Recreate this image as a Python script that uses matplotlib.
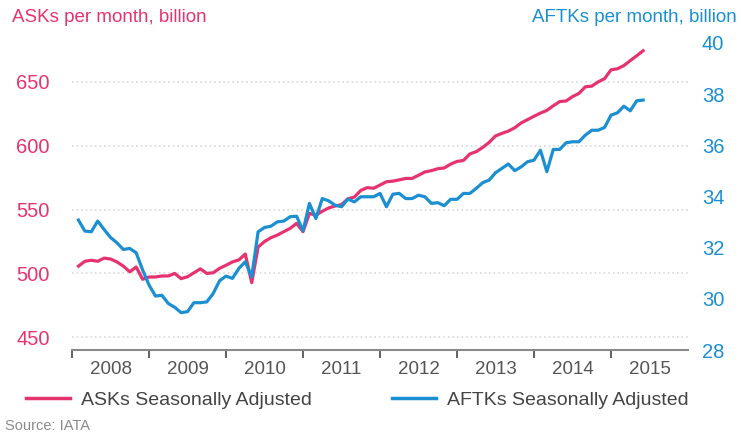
import numpy as np
import matplotlib
matplotlib.use("Agg")
import matplotlib.pyplot as plt
from matplotlib.ticker import FixedLocator, NullFormatter, FixedFormatter

plt.rcParams['font.family'] = ['Liberation Sans', 'DejaVu Sans']

PINK = '#e6336f'
BLUE = '#1b8fd2'

# monthly, Jan 2008 .. May 2015
asks = [505.7, 509.5, 510.3, 509.5, 512.0, 511.3, 509.0, 505.7, 501.3, 505.0,
        495.4, 497.2, 497.2, 498.0, 498.0, 500.0, 495.9, 497.4, 500.5, 503.6,
        500.0, 500.5, 504.0, 506.4, 509.0, 510.6, 515.2, 492.8, 520.6, 525.0,
        528.0, 530.0, 532.7, 535.3, 539.2, 532.7, 547.0, 545.6, 548.7, 551.3,
        552.8, 553.9, 558.5, 559.8, 565.0, 567.2, 566.7, 569.2, 571.8, 572.3,
        573.3, 574.4, 574.4, 576.9, 579.5, 580.5, 582.0, 582.6, 585.6, 587.7,
        588.5, 593.6, 595.4, 598.7, 602.6, 607.7, 609.7, 611.5, 614.1, 617.9,
        620.5, 623.1, 625.6, 627.7, 631.3, 634.6, 635.1, 638.5, 641.0, 646.2,
        646.7, 650.0, 652.6, 659.5, 660.3, 662.8, 666.7, 670.5, 674.4]

aftks = [33.08, 32.65, 32.62, 33.04, 32.71, 32.40, 32.19, 31.93, 31.97, 31.80,
         31.13, 30.54, 30.11, 30.14, 29.82, 29.67, 29.46, 29.50, 29.85, 29.85,
         29.88, 30.21, 30.71, 30.89, 30.80, 31.19, 31.45, 30.86, 32.62, 32.79,
         32.84, 33.01, 33.04, 33.21, 33.23, 32.66, 33.73, 33.14, 33.92, 33.83,
         33.66, 33.60, 33.90, 33.79, 33.99, 33.99, 33.99, 34.12, 33.60, 34.09,
         34.12, 33.92, 33.92, 34.05, 33.99, 33.73, 33.76, 33.64, 33.89, 33.89,
         34.12, 34.12, 34.32, 34.54, 34.64, 34.93, 35.10, 35.27, 35.01, 35.16,
         35.36, 35.42, 35.81, 34.97, 35.84, 35.84, 36.10, 36.14, 36.14, 36.40,
         36.59, 36.59, 36.70, 37.18, 37.27, 37.53, 37.35, 37.74, 37.77]

years = [2008, 2009, 2010, 2011, 2012, 2013, 2014, 2015]
left_ticks = [450, 500, 550, 600, 650]
right_ticks = [28, 30, 32, 34, 36, 38, 40]

# month-end positions in decimal years
x = 2008 + (np.arange(len(asks)) + 1) / 12.0

fig = plt.figure(figsize=(7.41, 4.36), dpi=100)
ax = fig.add_axes([0.0972, 0.1972, 0.8313, 0.7042])
ax2 = ax.twinx()

ax.plot(x, asks, color=PINK, lw=2.3, solid_joinstyle='round', zorder=3)
ax2.plot(x, aftks, color=BLUE, lw=2.3, solid_joinstyle='round', zorder=3)

ax.set_xlim(2008, 2016)
ax.set_ylim(440, 680.5)
ax2.set_ylim(28, 40)

for a in (ax, ax2):
    for s in ('top', 'left', 'right'):
        a.spines[s].set_visible(False)
ax2.spines['bottom'].set_visible(False)
ax.spines['bottom'].set_color('#8a8a8a')
ax.spines['bottom'].set_linewidth(1.5)

ax.set_yticks(left_ticks)
ax.set_yticklabels([str(v) for v in left_ticks])
ax.tick_params(axis='y', length=0, pad=16, labelsize=14.5, labelcolor=PINK)
ax.yaxis.grid(True, color='#d2d2d2', linestyle=(0, (1, 2)), linewidth=1.1)
ax.set_axisbelow(True)

ax2.set_yticks(right_ticks)
ax2.set_yticklabels([str(v) for v in right_ticks])
ax2.tick_params(axis='y', length=0, pad=10, labelsize=14.5, labelcolor=BLUE)

ax.xaxis.set_major_locator(FixedLocator(years))
ax.xaxis.set_major_formatter(NullFormatter())
ax.xaxis.set_minor_locator(FixedLocator([y + 0.5 for y in years]))
ax.xaxis.set_minor_formatter(FixedFormatter([str(y) for y in years]))
ax.tick_params(axis='x', which='major', length=6, width=1.3, color='#555555',
               direction='out')
ax.tick_params(axis='x', which='minor', length=0, pad=8, labelsize=13.5,
               labelcolor='#555555')

fig.text(12 / 741, 1 - 17 / 436, 'ASKs per month, billion', color=PINK,
         fontsize=13.5, ha='left', va='center')
fig.text(737 / 741, 1 - 18 / 436, 'AFTKs per month, billion', color=BLUE,
         fontsize=13.5, ha='right', va='center')

h1, = ax.plot([], [], color=PINK, lw=2.5)
h2, = ax.plot([], [], color=BLUE, lw=2.5)
fig.legend([h1, h2], ['ASKs Seasonally Adjusted', 'AFTKs Seasonally Adjusted'],
           loc='center left', bbox_to_anchor=(0.024, 1 - 400 / 436), ncol=2,
           frameon=False, fontsize=14, labelcolor='#444444', handlelength=2.3,
           handletextpad=0.55, columnspacing=4.1, borderaxespad=0)

fig.text(5 / 741, 1 - 426 / 436, 'Source: IATA', color='#8a8a8a',
         fontsize=10.5, ha='left', va='center')

fig.savefig('out.png', dpi=100, facecolor='white')
